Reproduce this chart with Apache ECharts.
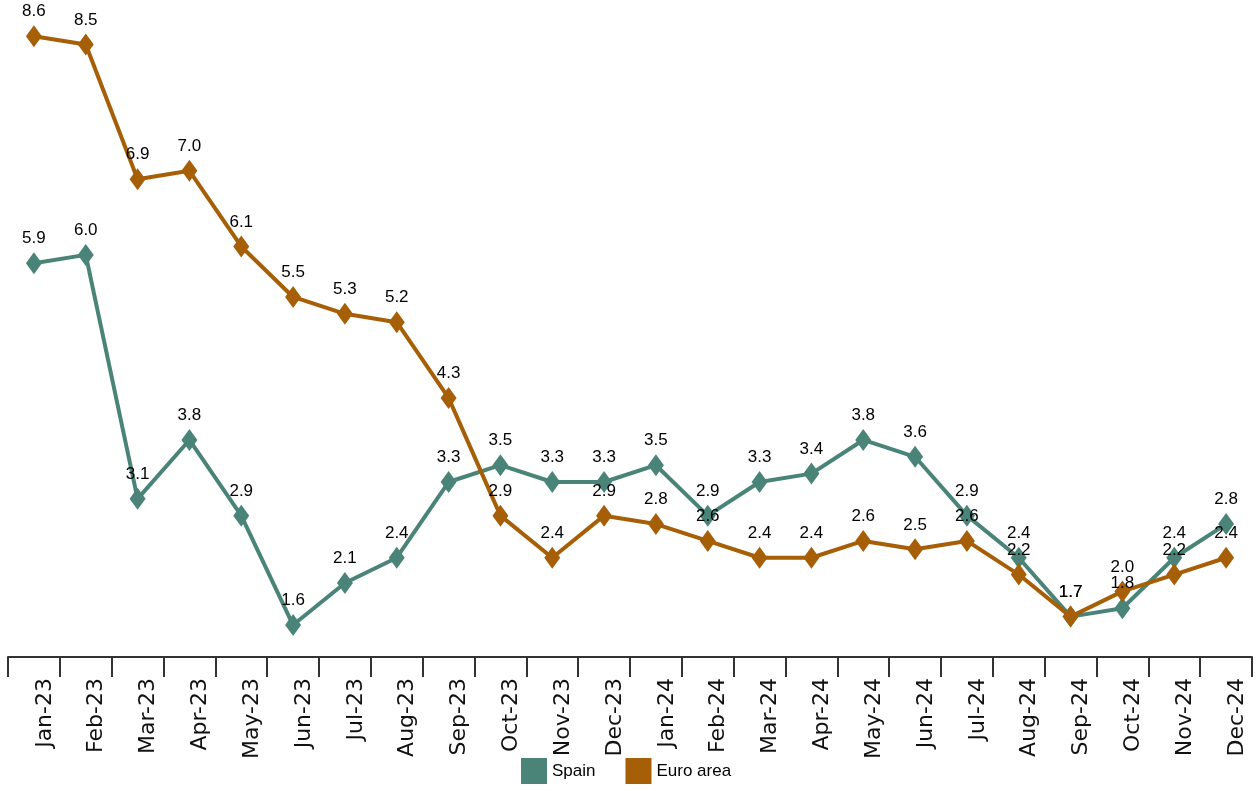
<!DOCTYPE html>
<html><head><meta charset="utf-8">
<script src="https://cdn.jsdelivr.net/npm/echarts@6/dist/echarts.min.js"></script>
<style>html,body{margin:0;padding:0;background:#fff}#c{width:1256px;height:791px}</style>
</head><body><div id="c"></div>
<script>
const categories=['Jan-23','Feb-23','Mar-23','Apr-23','May-23','Jun-23','Jul-23','Aug-23','Sep-23','Oct-23','Nov-23','Dec-23','Jan-24','Feb-24','Mar-24','Apr-24','May-24','Jun-24','Jul-24','Aug-24','Sep-24','Oct-24','Nov-24','Dec-24'];
const spain=[5.9,6.0,3.1,3.8,2.9,1.6,2.1,2.4,3.3,3.5,3.3,3.3,3.5,2.9,3.3,3.4,3.8,3.6,2.9,2.4,1.7,1.8,2.4,2.8];
const euro=[8.6,8.5,6.9,7.0,6.1,5.5,5.3,5.2,4.3,2.9,2.4,2.9,2.8,2.6,2.4,2.4,2.6,2.5,2.6,2.2,1.7,2.0,2.2,2.4];
const chart=echarts.init(document.getElementById('c'));
const lbl={show:true,position:'top',distance:5,color:'#000',fontFamily:'Arial, Liberation Sans',fontSize:17,formatter:p=>p.value.toFixed(1)};
chart.setOption({
 animation:false,
 grid:{left:8,right:4,top:0,bottom:134},
 legend:{bottom:2,left:516,itemWidth:26,itemHeight:26,itemGap:30,icon:'rect',textStyle:{fontFamily:'Arial, Liberation Sans',fontSize:17,color:'#000'},z:10},
 graphic:[{type:'rect',shape:{x:0,y:758,width:1256,height:40},style:{fill:'#fff'},z:5}],
 xAxis:{type:'category',data:categories,boundaryGap:true,
  axisLine:{lineStyle:{color:'#333',width:2}},
  axisTick:{show:true,length:20,lineStyle:{color:'#333',width:2}},
  axisLabel:{rotate:90,interval:0,margin:21,fontFamily:'DejaVu Sans',fontSize:22,color:'#111',
   align:'right',verticalAlign:'top'}},
 yAxis:{type:'value',min:1.22,max:9.03,show:false,splitLine:{show:false}},
 series:[
  {name:'Spain',type:'line',data:spain,color:'#4a8478',symbol:'diamond',symbolSize:[16,22],lineStyle:{width:4},label:lbl},
  {name:'Euro area',type:'line',data:euro,color:'#a65f06',symbol:'diamond',symbolSize:[16,22],lineStyle:{width:4},label:lbl}
 ]
});
</script></body></html>
